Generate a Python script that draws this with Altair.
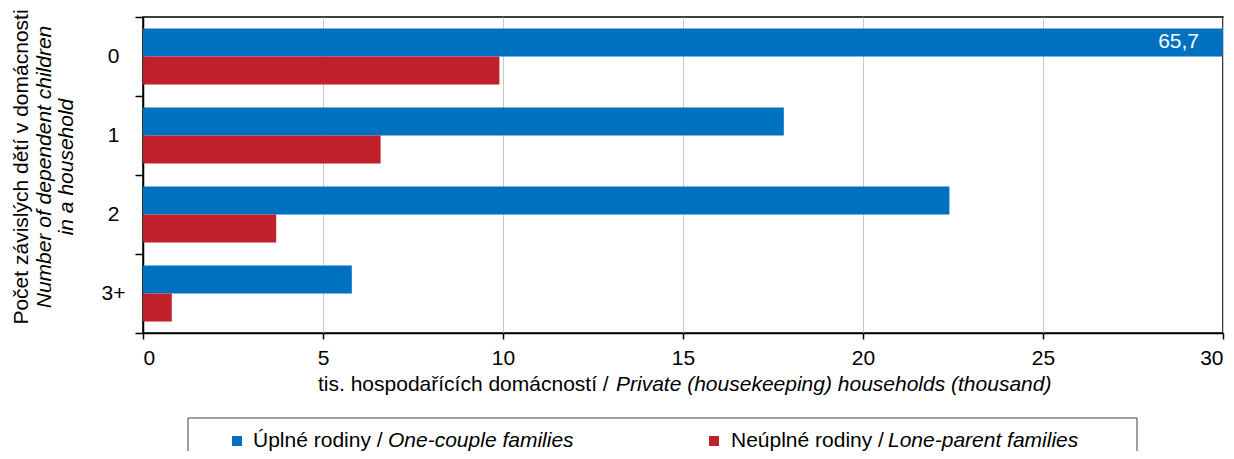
import altair as alt
import pandas as pd

# ---- data ----
categories = ["0", "1", "2", "3+"]
series = ["Úplné rodiny / One-couple families", "Neúplné rodiny / Lone-parent families"]
one_couple = [65.7, 17.8, 22.4, 5.8]
lone_parent = [9.9, 6.6, 3.7, 0.8]
x_ticks = [0, 5, 10, 15, 20, 25, 30]
x_max = 30

y_title_lines = ["Počet závislých dětí v domácnosti", "Number of dependent children", "in a household"]
x_title_cz = "tis. hospodařících domácností /"
x_title_en = "Private (housekeeping) households (thousand)"
legend_cz = ["Úplné rodiny /", "Neúplné rodiny /"]
legend_en = ["One-couple families", "Lone-parent families"]
colors = ["#0070C0", "#C0202A"]

FONT = "Liberation Sans"
FS = 21

rows = []
for i, c in enumerate(categories):
    rows.append({"cat": c, "series": series[0], "value": one_couple[i]})
    rows.append({"cat": c, "series": series[1], "value": lone_parent[i]})
df = pd.DataFrame(rows)

W, H = 1080, 316

y_enc = alt.Y(
    "cat:N", sort=categories, title=None,
    scale=alt.Scale(paddingInner=0, paddingOuter=0),
    axis=alt.Axis(tickBand="extent", tickSize=8, tickColor="black", tickWidth=1.5,
                  domainColor="black", domainWidth=1.5, labelAlign="center",
                  labelPadding=22, labelFont=FONT, labelFontSize=FS, labelColor="black",
                  grid=False, labelAngle=0),
)
yoff_enc = alt.YOffset("series:N", sort=series,
                       scale=alt.Scale(paddingInner=0, paddingOuter=0.41))
x_scale = alt.Scale(domain=[0, x_max], nice=False)

bars = alt.Chart(df).mark_bar(clip=True).encode(
    y=y_enc,
    yOffset=yoff_enc,
    x=alt.X("value:Q", scale=x_scale, title=None,
            axis=alt.Axis(values=x_ticks, tickSize=6, tickColor="black", tickWidth=1.5,
                          domainColor="black", domainWidth=1.5, labelFont=FONT,
                          labelFontSize=FS, labelColor="black", labelPadding=8,
                          grid=True, gridColor="#C8C8C8", gridWidth=1)),
    color=alt.Color("series:N", sort=series, scale=alt.Scale(domain=series, range=colors), legend=None),
)

labels = alt.Chart(df).transform_filter(alt.datum.value > x_max).transform_calculate(
    lx=f"min(datum.value, {x_max})",
    lab="replace(format(datum.value, '.1f'), '.', ',')",
).mark_text(align="right", baseline="middle", dx=-24, color="white", font=FONT, fontSize=FS).encode(
    y=alt.Y("cat:N", sort=categories),
    yOffset=yoff_enc,
    x=alt.X("lx:Q", scale=x_scale),
    text="lab:N",
)

# y title (three lines, rotated)
y_title_x = [-121, -98, -76]
y_titles = []
for i, line in enumerate(y_title_lines):
    y_titles.append(
        alt.Chart(pd.DataFrame({"t": [line]})).mark_text(
            angle=270, align="center", baseline="middle", font=FONT, fontSize=FS,
            fontStyle="normal" if i == 0 else "italic", color="black",
        ).encode(x=alt.value(y_title_x[i]), y=alt.value(150), text="t:N")
    )

# x title (normal + italic parts)
xt1 = alt.Chart(pd.DataFrame({"t": [x_title_cz]})).mark_text(
    align="left", baseline="middle", font=FONT, fontSize=FS, color="black"
).encode(x=alt.value(175), y=alt.value(368), text="t:N")
xt2 = alt.Chart(pd.DataFrame({"t": [x_title_en]})).mark_text(
    align="left", baseline="middle", font=FONT, fontSize=FS, fontStyle="italic", color="black"
).encode(x=alt.value(473), y=alt.value(368), text="t:N")

# legend
box = alt.Chart(pd.DataFrame({"a": [0]})).mark_rect(
    fill="white", stroke="#404040", strokeWidth=1
).encode(x=alt.value(45), x2=alt.value(994), y=alt.value(401), y2=alt.value(450))

leg_layers = [box]
sq_x = [89, 566]
tx_cz = [110, 588]
tx_en = [245, 745]
for i in range(2):
    leg_layers.append(
        alt.Chart(pd.DataFrame({"s": [series[i]]})).mark_square(size=100, opacity=1).encode(
            x=alt.value(sq_x[i] + 5), y=alt.value(424),
            color=alt.Color("s:N", scale=alt.Scale(domain=series, range=colors), legend=None),
        )
    )
    leg_layers.append(
        alt.Chart(pd.DataFrame({"t": [legend_cz[i]]})).mark_text(
            align="left", baseline="middle", font=FONT, fontSize=FS, color="black"
        ).encode(x=alt.value(tx_cz[i]), y=alt.value(424), text="t:N")
    )
    leg_layers.append(
        alt.Chart(pd.DataFrame({"t": [legend_en[i]]})).mark_text(
            align="left", baseline="middle", font=FONT, fontSize=FS, fontStyle="italic", color="black"
        ).encode(x=alt.value(tx_en[i]), y=alt.value(424), text="t:N")
    )

chart = alt.layer(bars, labels, *y_titles, xt1, xt2, *leg_layers).properties(
    width=W, height=H,
    autosize=alt.AutoSizeParams(type="none"),
    padding={"left": 135, "top": 9, "right": 3, "bottom": 118},
).configure_view(stroke="black", strokeWidth=1.5)

chart.save("out.html", embed_options={"renderer": "svg", "actions": False})
